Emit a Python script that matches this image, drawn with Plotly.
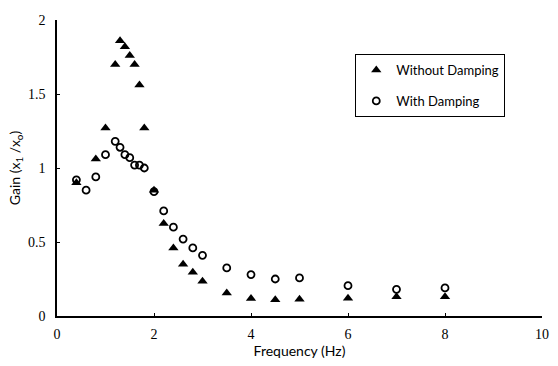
import plotly.graph_objects as go

freq_nd = [0.4, 0.8, 1.0, 1.2, 1.3, 1.4, 1.5, 1.6, 1.7, 1.8, 2.0, 2.2, 2.4, 2.6, 2.8, 3.0, 3.5, 4.0, 4.5, 5.0, 6.0, 7.0, 8.0]
gain_nd = [0.90, 1.06, 1.27, 1.70, 1.86, 1.82, 1.76, 1.70, 1.56, 1.27, 0.85, 0.625, 0.46, 0.35, 0.295, 0.235, 0.155, 0.118, 0.11, 0.113, 0.12, 0.13, 0.13]

freq_d = [0.4, 0.6, 0.8, 1.0, 1.2, 1.3, 1.4, 1.5, 1.6, 1.7, 1.8, 2.0, 2.2, 2.4, 2.6, 2.8, 3.0, 3.5, 4.0, 4.5, 5.0, 6.0, 7.0, 8.0]
gain_d = [0.92, 0.85, 0.94, 1.09, 1.18, 1.14, 1.09, 1.07, 1.02, 1.02, 1.00, 0.84, 0.71, 0.60, 0.52, 0.46, 0.41, 0.325, 0.28, 0.25, 0.257, 0.205, 0.18, 0.19]

x_ticks = [0, 2, 4, 6, 8, 10]
y_ticks = [0, 0.5, 1, 1.5, 2]
y_tick_text = ["0", "0.5", "1", "1.5", "2"]

fig = go.Figure()
fig.add_trace(go.Scatter(x=freq_nd, y=gain_nd, mode="markers", name="Without Damping",
                         legendgroup="a",
                         marker=dict(symbol="triangle-up", size=9, color="black")))
fig.add_trace(go.Scatter(x=freq_d, y=gain_d, mode="markers", name="With Damping",
                         legendgroup="b",
                         marker=dict(symbol="circle-open", size=7, color="black",
                                     line=dict(width=1.8, color="black"))))

fig.update_layout(
    width=558, height=366,
    margin=dict(l=57, r=9, t=20, b=50),
    paper_bgcolor="white", plot_bgcolor="white",
    font=dict(family="Liberation Serif", size=14, color="black"),
    showlegend=True,
    legend=dict(x=0.615, y=0.885, xanchor="left", yanchor="top",
                bordercolor="black", borderwidth=1, bgcolor="white",
                font=dict(family="Lato", size=13, color="black"),
                traceorder="grouped", tracegroupgap=11,
                itemwidth=30),
    xaxis=dict(range=[0, 10], tickvals=x_ticks, ticks="inside", ticklen=3,
               tickcolor="black", showline=True, linecolor="black", linewidth=1.5,
               showgrid=False, zeroline=False, mirror=False,
               ticklabelstandoff=4,
               tickfont=dict(family="Liberation Serif", size=14),
               title=dict(text="Frequency (Hz)", font=dict(family="Lato", size=14), standoff=6)),
    yaxis=dict(range=[0, 2], tickvals=y_ticks, ticktext=y_tick_text, ticks="inside", ticklen=3,
               tickcolor="black", showline=True, linecolor="black", linewidth=1.5,
               showgrid=False, zeroline=False,
               ticklabelstandoff=7,
               tickfont=dict(family="Liberation Serif", size=14),
               title=dict(text="Gain (x<sub>1</sub> /x<sub>o</sub>)", font=dict(family="Lato", size=14), standoff=4)),
)

fig.write_html("out.html")
